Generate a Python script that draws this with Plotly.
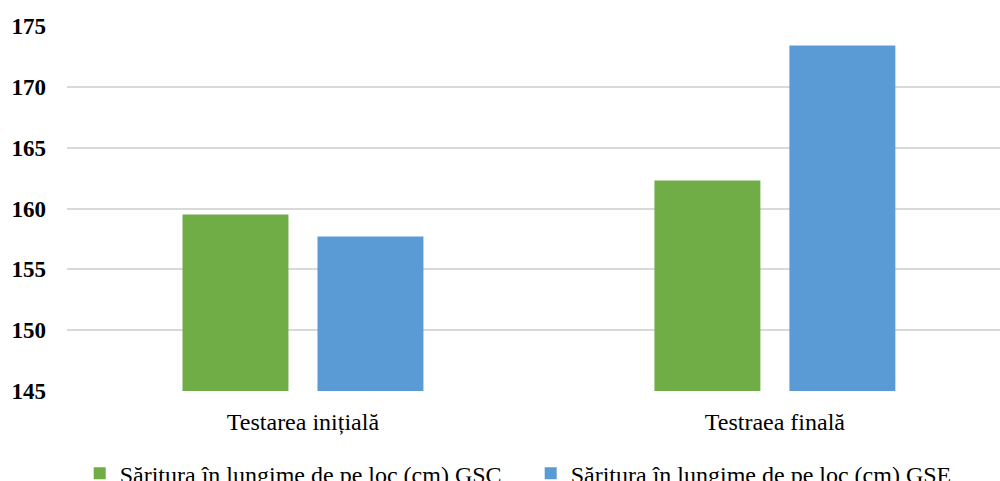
import plotly.graph_objects as go

categories = ["Testarea inițială", "Testraea finală"]
series_names = ["Săritura în lungime de pe loc (cm) GSC", "Săritura în lungime de pe loc (cm) GSE"]
gsc_values = [159.5, 162.3]
gse_values = [157.7, 173.4]
y_ticks = [145, 150, 155, 160, 165, 170, 175]
colors = ["#70AD47", "#5B9BD5"]

SERIF = "Liberation Serif"

fig = go.Figure()
for name, vals, col in zip(series_names, [gsc_values, gse_values], colors):
    fig.add_trace(go.Bar(x=categories, y=vals, name=name, marker=dict(color=col, line=dict(width=0))))

fig.update_layout(
    width=1000, height=481,
    margin=dict(l=67, r=0, t=26, b=90, autoexpand=False),
    paper_bgcolor="white", plot_bgcolor="white",
    barmode="group", bargap=0.428, bargroupgap=0.215,
    font=dict(family=SERIF, color="#000000"),
    showlegend=True,
    legend=dict(orientation="h", x=0.497, xanchor="center", y=-0.165, yanchor="top",
                font=dict(size=24, family=SERIF, color="#000"),
                itemwidth=30, entrywidth=406, traceorder="normal"),
    xaxis=dict(range=[-0.5, 1.477], showgrid=False, showline=False, ticks="",
               ticklabelstandoff=14,
               tickfont=dict(size=24, family=SERIF, color="#000")),
    yaxis=dict(range=[145, 175], tickvals=y_ticks, showgrid=True, gridcolor="#d9d9d9", gridwidth=1.5,
               zeroline=False, showline=False, ticks="", ticklabelstandoff=20,
               tickfont=dict(size=23, family=SERIF, color="#000", weight=700)),
)
fig.write_html("out.html", config={"displayModeBar": False},
               post_script="document.body.style.margin='0';document.body.style.overflow='hidden';")
